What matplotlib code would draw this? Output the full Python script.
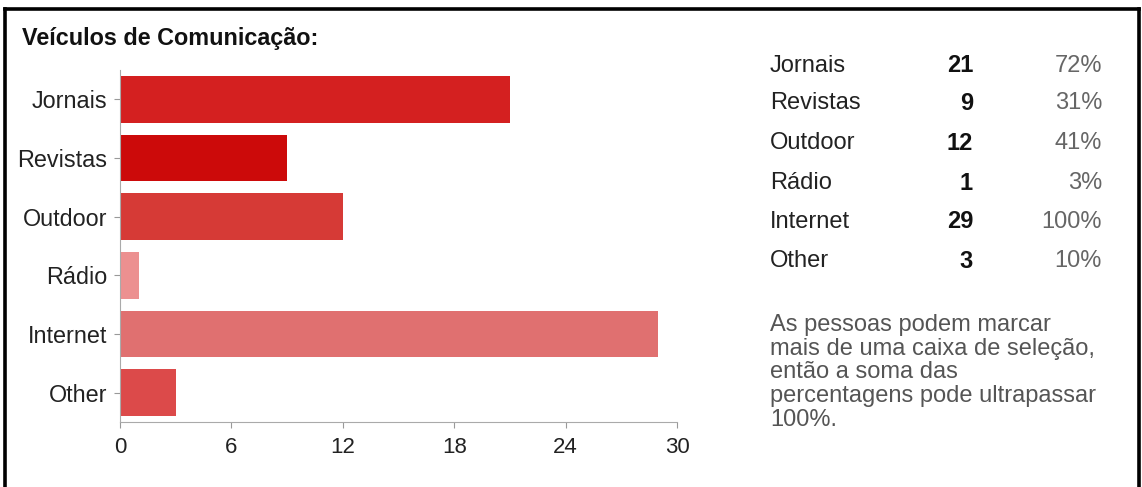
import matplotlib.pyplot as plt
from matplotlib.lines import Line2D

# survey answers
categories = ['Jornais', 'Revistas', 'Outdoor', 'Rádio', 'Internet', 'Other']
counts = [21, 9, 12, 1, 29, 3]
bar_colors = ['#d42020', '#cc0a0a', '#d63a36', '#ec9090', '#e07070', '#dc4a4a']
xticks = [0, 6, 12, 18, 24, 30]
total = 29

title = 'Veículos de Comunicação:'
note = ('As pessoas podem marcar\nmais de uma caixa de seleção,\n'
        'então a soma das\npercentagens pode ultrapassar\n100%.')

plt.rcParams['font.family'] = ['Liberation Sans', 'DejaVu Sans']

W, H = 1142, 487
fig = plt.figure(figsize=(W / 100, H / 100), dpi=100)

def fx(px):
    return px / W

def fy(py):
    return 1 - py / H

# frame around the panel (open at the bottom)
for xs, ys in [([5, 5], [9, 487]), ([5, 1139], [9, 9]), ([1139, 1139], [9, 487])]:
    fig.add_artist(Line2D([fx(x) for x in xs], [fy(y) for y in ys],
                          color='black', lw=2.6, transform=fig.transFigure))

fig.text(fx(22), fy(38), title, fontsize=16.8, fontweight='bold',
         ha='left', va='center', color='#111111')

ax = fig.add_axes([fx(120), fy(422), fx(677) - fx(120), fy(70) - fy(422)])
ypos = list(range(len(categories)))
ax.barh(ypos, counts, height=0.8, color=bar_colors)
ax.set_ylim(len(categories) - 0.5, -0.5)
ax.set_xlim(0, 30)
ax.set_xticks(xticks)
ax.set_yticks(ypos)
ax.set_yticklabels(categories)
ax.tick_params(axis='both', colors='#999999', labelcolor='#222222',
               length=4, width=0.8)
ax.tick_params(axis='y', pad=5, labelsize=16.8)
ax.tick_params(axis='x', pad=7, labelsize=16)
for side in ['top', 'right']:
    ax.spines[side].set_visible(False)
for side in ['left', 'bottom']:
    ax.spines[side].set_color('#aaaaaa')
    ax.spines[side].set_linewidth(0.8)

# summary table on the right
row_y = [66, 103, 143, 183, 222, 261]
for cat, n, y in zip(categories, counts, row_y):
    fig.text(fx(770), fy(y), cat, fontsize=17, ha='left', va='center', color='#222222')
    fig.text(fx(973), fy(y), str(n), fontsize=17, fontweight='bold',
             ha='right', va='center', color='#111111')
    fig.text(fx(1102), fy(y), f'{round(100 * n / total)}%', fontsize=17,
             ha='right', va='center', color='#666666')

fig.text(fx(770), fy(314), note, fontsize=17, ha='left', va='top',
         color='#555555', linespacing=1.1)

fig.savefig('out.png', dpi=100)
